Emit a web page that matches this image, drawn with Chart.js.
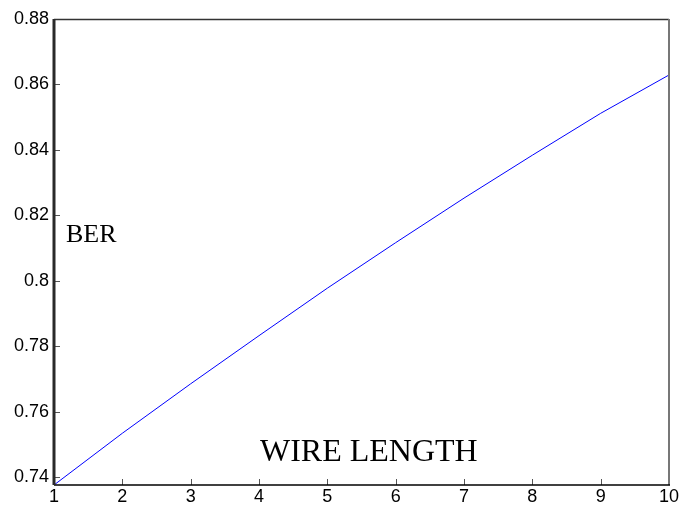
<!DOCTYPE html>
<html>
<head>
<meta charset="utf-8">
<script src="https://cdn.jsdelivr.net/npm/chart.js@4"></script>
<style>
  html, body { margin: 0; padding: 0; background: #fff; }
  #wrap { width: 699px; height: 508px; }
</style>
</head>
<body>
<div id="wrap"><canvas id="berChart" width="699" height="508"></canvas></div>
<script>
// data
const wireLength = [1, 2, 3, 4, 5, 6, 7, 8, 9, 10];
const berValues = [0.7377, 0.7535, 0.7686, 0.7833, 0.7978, 0.8117, 0.8253, 0.8384, 0.8512, 0.8629];
const yTicks = [0.74, 0.76, 0.78, 0.80, 0.82, 0.84, 0.86, 0.88];
const xTicks = [1, 2, 3, 4, 5, 6, 7, 8, 9, 10];
const yLabel = 'BER';
const xLabel = 'WIRE LENGTH';

// box, inward ticks and the labels placed inside the axes (matlab style)
const matlabBox = {
    id: 'matlabBox',
    afterDraw(chart) {
        const ctx = chart.ctx;
        const a = chart.chartArea;
        const xs = chart.scales.x;
        const ys = chart.scales.y;
        ctx.save();

        // ticks pointing into the plot
        ctx.strokeStyle = '#555';
        ctx.lineWidth = 1;
        ys.ticks.forEach(t => {
            const py = Math.round(ys.getPixelForValue(t.value)) + 0.5;
            ctx.beginPath();
            ctx.moveTo(a.left, py);
            ctx.lineTo(a.left + 6, py);
            ctx.stroke();
        });
        xs.ticks.forEach(t => {
            const px = Math.round(xs.getPixelForValue(t.value)) + 0.5;
            ctx.beginPath();
            ctx.moveTo(px, a.bottom);
            ctx.lineTo(px, a.bottom - 6);
            ctx.stroke();
        });

        // top and right edges
        ctx.strokeStyle = '#333';
        ctx.lineWidth = 1.5;
        ctx.beginPath();
        ctx.moveTo(a.left, a.top + 0.5);
        ctx.lineTo(a.right, a.top + 0.5);
        ctx.stroke();
        ctx.strokeStyle = '#777';
        ctx.lineWidth = 2;
        ctx.beginPath();
        ctx.moveTo(a.right, a.top);
        ctx.lineTo(a.right, a.bottom);
        ctx.stroke();

        // bottom and left axis lines
        ctx.strokeStyle = '#000';
        ctx.lineWidth = 1.5;
        ctx.beginPath();
        ctx.moveTo(a.left, a.bottom);
        ctx.lineTo(a.right + 1, a.bottom);
        ctx.stroke();
        ctx.strokeStyle = '#2a2a2a';
        ctx.lineWidth = 3;
        ctx.beginPath();
        ctx.moveTo(a.left, a.top);
        ctx.lineTo(a.left, a.bottom);
        ctx.stroke();

        // axis titles sit inside the plot
        ctx.fillStyle = '#000';
        ctx.textAlign = 'left';
        ctx.textBaseline = 'alphabetic';
        ctx.font = '26px "Liberation Serif", "Times New Roman", serif';
        ctx.fillText(yLabel, 66, 242);
        ctx.font = '32px "Liberation Serif", "Times New Roman", serif';
        ctx.fillText(xLabel, 260, 461);
        ctx.restore();
    }
};

const ctx = document.getElementById('berChart').getContext('2d');
new Chart(ctx, {
    type: 'line',
    data: {
        datasets: [{
            data: wireLength.map((w, i) => ({ x: w, y: berValues[i] })),
            borderColor: 'rgb(0, 0, 255)',
            borderWidth: 1,
            pointRadius: 0,
            tension: 0,
            fill: false
        }]
    },
    options: {
        responsive: false,
        animation: false,
        layout: { padding: { top: 19, right: 30, left: 0, bottom: 0 } },
        plugins: { legend: { display: false }, tooltip: { enabled: false } },
        scales: {
            x: {
                type: 'linear',
                min: 1,
                max: 10,
                afterBuildTicks: s => { s.ticks = xTicks.map(v => ({ value: v })); },
                afterFit: s => { s.height = 23; },
                grid: { display: false, drawTicks: false },
                border: { display: false },
                ticks: {
                    padding: 1,
                    color: '#000',
                    font: { family: '"Liberation Sans", Arial, sans-serif', size: 18 },
                    maxRotation: 0
                }
            },
            y: {
                min: 0.7377,
                max: 0.88,
                afterBuildTicks: s => { s.ticks = yTicks.map(v => ({ value: v })); },
                afterFit: s => { s.width = 54; },
                grid: { display: false, drawTicks: false },
                border: { display: false },
                ticks: {
                    padding: 5,
                    color: '#000',
                    font: { family: '"Liberation Sans", Arial, sans-serif', size: 18 },
                    callback: v => String(Number(v.toFixed(2)))
                }
            }
        }
    },
    plugins: [matlabBox]
});
</script>
</body>
</html>
